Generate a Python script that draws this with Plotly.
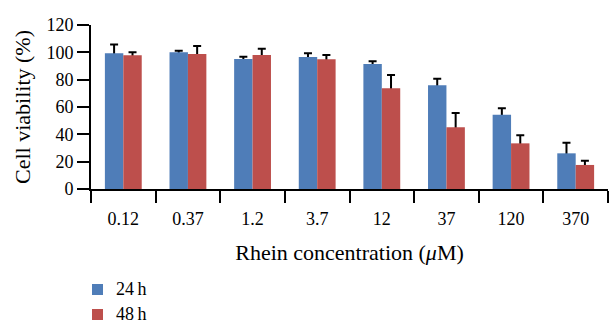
import plotly.graph_objects as go

# Rhein concentrations (µM) and cell viability (%) after 24 h / 48 h
concentrations = ["0.12", "0.37", "1.2", "3.7", "12", "37", "120", "370"]
viability_24h = [99.3, 100.0, 95.1, 96.6, 91.5, 75.9, 54.4, 26.1]
error_24h = [6.5, 1.2, 1.7, 2.7, 1.9, 4.8, 4.6, 7.8]
viability_48h = [97.8, 98.8, 98.0, 94.9, 73.7, 45.1, 33.4, 17.6]
error_48h = [2.2, 5.9, 4.6, 3.2, 9.7, 10.5, 5.9, 3.1]
series_names = ["24\u2009h", "48\u2009h"]

y_ticks = [0, 20, 40, 60, 80, 100, 120]

FONT = "Liberation Serif"
BLUE = "#4F7DB8"
RED = "#BD4F4C"

W, H = 610, 326
L, R, T, B = 91, 2, 25, 137
PW, PH = W - L - R, H - T - B


def px_x(px):
    return (px - L) / PW


def px_y(py):
    return (H - B - py) / PH


def err(values):
    return dict(type="data", array=values, symmetric=True,
                color="black", thickness=2, width=4)


fig = go.Figure()
# Error bars go on transparent bars drawn first; the solid bars drawn
# afterwards hide the lower half so only the upward whisker shows.
for vals, errs, grp in [(viability_24h, error_24h, "a"),
                        (viability_48h, error_48h, "b")]:
    fig.add_trace(go.Bar(x=concentrations, y=vals, offsetgroup=grp,
                         marker=dict(color="rgba(0,0,0,0)", line=dict(width=0)),
                         error_y=err(errs), showlegend=False, hoverinfo="skip"))
for vals, name, grp, col in [(viability_24h, series_names[0], "a", BLUE),
                             (viability_48h, series_names[1], "b", RED)]:
    fig.add_trace(go.Bar(x=concentrations, y=vals, name=name, offsetgroup=grp,
                         marker=dict(color=col, line=dict(width=0)),
                         showlegend=False))

# Legend drawn below the axis title: colour squares with labels
for i, (name, col) in enumerate(zip(series_names, [BLUE, RED])):
    top = 284 + 25 * i
    fig.add_shape(type="rect", xref="paper", yref="paper",
                  x0=px_x(92), x1=px_x(103), y0=px_y(top + 11), y1=px_y(top),
                  fillcolor=col, line=dict(width=0))
    fig.add_annotation(xref="paper", yref="paper", x=px_x(114), y=px_y(top + 5),
                       xanchor="left", yanchor="middle", showarrow=False,
                       text=name, font=dict(size=18))

fig.update_layout(
    width=W, height=H,
    margin=dict(l=L, r=R, t=T, b=B),
    paper_bgcolor="white", plot_bgcolor="white",
    font=dict(family=FONT, size=18, color="black"),
    barmode="group", bargap=0.43, bargroupgap=0,
    showlegend=False,
)
fig.update_xaxes(
    type="category", showline=True, linecolor="black", linewidth=2,
    ticks="outside", tickson="boundaries", ticklen=12, tickwidth=2,
    tickcolor="black", showgrid=False, ticklabelstandoff=12,
    title=dict(text="Rhein concentration (<i>μ</i>M)", standoff=17),
)
fig.update_yaxes(
    range=[0, 120], tickvals=y_ticks, showline=True, linecolor="black",
    linewidth=2, ticks="outside", ticklen=12, tickwidth=2, tickcolor="black",
    showgrid=False, zeroline=False,
    title=dict(text="Cell viability (%)", standoff=10),
)

fig.write_html("out.html")
